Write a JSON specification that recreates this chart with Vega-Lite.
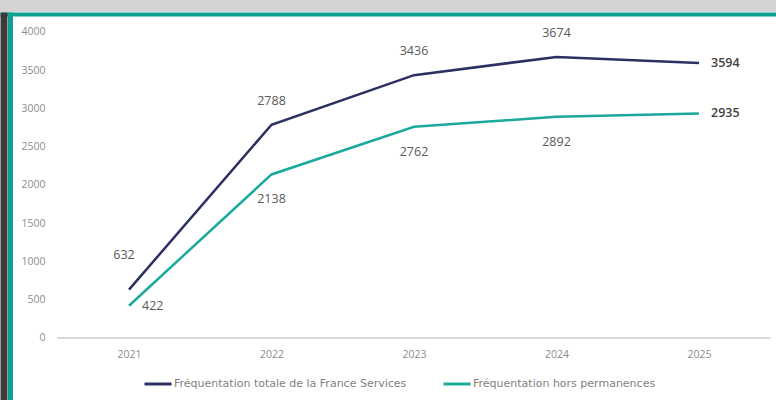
{
  "$schema": "https://vega.github.io/schema/vega-lite/v6.json",
  "width": 776,
  "height": 400,
  "autosize": {"type": "fit", "contains": "padding"},
  "padding": {"left": 0, "top": 12, "right": 0, "bottom": 0},
  "background": "#d4d4d4",
  "config": {
    "view": {"fill": "white", "stroke": null},
    "font": "Open Sans",
    "text": {"font": "Open Sans"}
  },
  "data": {
    "values": [
      {"year": 2021, "series": "Fréquentation totale de la France Services", "value": 632},
      {"year": 2022, "series": "Fréquentation totale de la France Services", "value": 2788},
      {"year": 2023, "series": "Fréquentation totale de la France Services", "value": 3436},
      {"year": 2024, "series": "Fréquentation totale de la France Services", "value": 3674},
      {"year": 2025, "series": "Fréquentation totale de la France Services", "value": 3594},
      {"year": 2021, "series": "Fréquentation hors permanences", "value": 422},
      {"year": 2022, "series": "Fréquentation hors permanences", "value": 2138},
      {"year": 2023, "series": "Fréquentation hors permanences", "value": 2762},
      {"year": 2024, "series": "Fréquentation hors permanences", "value": 2892},
      {"year": 2025, "series": "Fréquentation hors permanences", "value": 2935}
    ]
  },
  "encoding": {
    "x": {
      "field": "year", "type": "quantitative",
      "scale": {"domain": [2020.0947, 2025.5404], "nice": false, "zero": false},
      "axis": {
        "title": null, "orient": "top",
        "values": [2020.1614, 2021, 2022, 2023, 2024, 2025],
        "labelExpr": "datum.value < 2021 ? '' : format(datum.value, 'd')",
        "grid": true,
        "gridColor": {"condition": {"test": "datum.value < 2021", "value": "#0c9f92"}, "value": "transparent"},
        "gridWidth": 5,
        "domain": true, "domainColor": "#0c9f92", "domainWidth": 4, "domainCap": "butt",
        "ticks": false, "tickSize": 0,
        "offset": -2, "labelPadding": -335, "labelBaseline": "top",
        "labelFont": "Open Sans", "labelFontSize": 10.5, "labelColor": "#8c8c8c"
      }
    },
    "y": {
      "field": "value", "type": "quantitative",
      "scale": {"domain": [-810.5, 4261.4], "nice": false, "zero": false},
      "axis": {
        "title": null, "values": [0, 500, 1000, 1500, 2000, 2500, 3000, 3500, 4000],
        "format": "d",
        "grid": false, "ticks": false, "tickSize": 0,
        "domain": true, "domainColor": "#3b3b3b", "domainWidth": 7, "domainCap": "butt",
        "offset": -3.5, "labelPadding": -41.5, "labelAlign": "right",
        "labelFont": "Open Sans", "labelFontSize": 10.5, "labelColor": "#8c8c8c"
      }
    }
  },
  "layer": [
    {
      "mark": {"type": "rule", "color": "#d9d9d9", "strokeWidth": 1},
      "encoding": {
        "x": {"datum": 2020.5},
        "x2": {"datum": 2025.5},
        "y": {"datum": 0}
      }
    },
    {
      "mark": {"type": "line", "strokeWidth": 2.5},
      "encoding": {
        "color": {
          "field": "series", "type": "nominal",
          "scale": {
            "domain": ["Fréquentation totale de la France Services", "Fréquentation hors permanences"],
            "range": ["#2b2f62", "#1aa99b"]
          },
          "legend": {
            "title": null, "orient": "none", "legendX": 143, "legendY": 357,
            "direction": "horizontal", "symbolType": "stroke", "symbolStrokeWidth": 3,
            "symbolSize": 729, "labelOffset": 1, "columnPadding": 30, "labelLimit": 0,
            "labelFont": "DejaVu Sans", "labelFontSize": 11, "labelColor": "#7f7f7f"
          }
        }
      }
    },
    {
      "transform": [{"filter": "datum.series == 'Fréquentation totale de la France Services' && datum.year == 2021"}],
      "mark": {"type": "text", "dy": -35, "dx": -5, "fontSize": 12.5, "color": "#595959"},
      "encoding": {"text": {"field": "value", "type": "quantitative", "format": "d"}}
    },
    {
      "transform": [{"filter": "datum.series == 'Fréquentation totale de la France Services' && datum.year > 2021 && datum.year < 2025"}],
      "mark": {"type": "text", "dy": -24, "fontSize": 12.5, "color": "#595959"},
      "encoding": {"text": {"field": "value", "type": "quantitative", "format": "d"}}
    },
    {
      "transform": [{"filter": "datum.series == 'Fréquentation hors permanences' && datum.year > 2021 && datum.year < 2025"}],
      "mark": {"type": "text", "dy": 25, "fontSize": 12.5, "color": "#595959"},
      "encoding": {"text": {"field": "value", "type": "quantitative", "format": "d"}}
    },
    {
      "transform": [{"filter": "datum.series == 'Fréquentation hors permanences' && datum.year == 2021"}],
      "mark": {"type": "text", "dx": 13, "align": "left", "fontSize": 12.5, "color": "#595959"},
      "encoding": {"text": {"field": "value", "type": "quantitative", "format": "d"}}
    },
    {
      "transform": [{"filter": "datum.year == 2025"}],
      "mark": {"type": "text", "dx": 12, "align": "left", "fontSize": 12.5, "fontWeight": 600, "color": "#404040"},
      "encoding": {"text": {"field": "value", "type": "quantitative", "format": "d"}}
    }
  ]
}
